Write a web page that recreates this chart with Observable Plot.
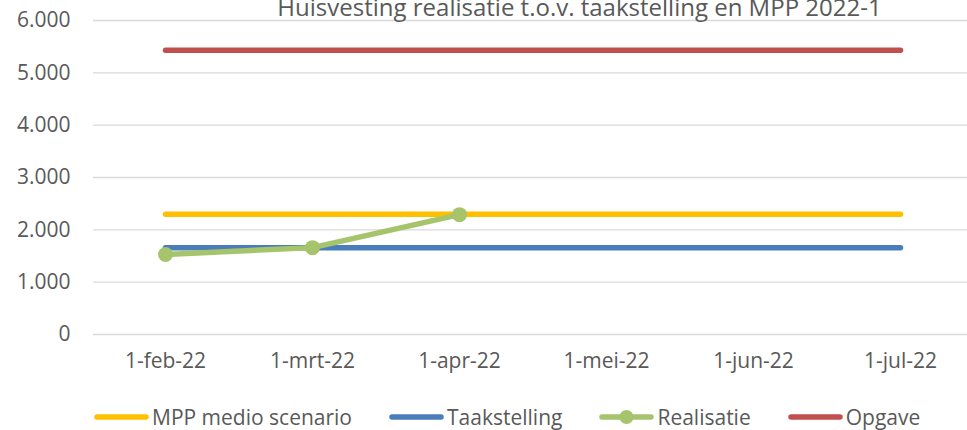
<!DOCTYPE html>
<html>
<head>
<meta charset="utf-8">
<script src="https://cdn.jsdelivr.net/npm/d3@7"></script>
<script src="https://cdn.jsdelivr.net/npm/@observablehq/plot@0.6"></script>
<style>
  body { margin: 0; background: #fff; }
  #wrap { position: relative; width: 967px; height: 430px; overflow: hidden; font-family: "Open Sans", sans-serif; }
  #legend { position: absolute; left: 94px; top: 403px; display: flex; align-items: center; gap: 37px; font-size: 21px; color: #595959; white-space: nowrap; }
  .item { display: flex; align-items: center; gap: 3px; }
</style>
</head>
<body>
<div id="wrap"><div id="chart"></div><div id="legend"></div></div>
<script>
const title = "Huisvesting realisatie t.o.v. taakstelling en MPP 2022-1";
const dates = ["1-feb-22", "1-mrt-22", "1-apr-22", "1-mei-22", "1-jun-22", "1-jul-22"];
const seriesNames = ["MPP medio scenario", "Taakstelling", "Realisatie", "Opgave"];
const seriesColors = ["#FFC000", "#4A7EBB", "#A6C46C", "#C0504D"];
const mppMedio = [2300, 2300, 2300, 2300, 2300, 2300];
const taakstelling = [1660, 1660, 1660, 1660, 1660, 1660];
const realisatie = [1530, 1660, 2290];
const opgave = [5430, 5430, 5430, 5430, 5430, 5430];
const yTicks = [0, 1000, 2000, 3000, 4000, 5000, 6000];

const toRows = (vals, name) => vals.map((v, i) => ({date: dates[i], value: v, series: name}));
const rows = [
  toRows(mppMedio, seriesNames[0]),
  toRows(taakstelling, seriesNames[1]),
  toRows(realisatie, seriesNames[2]),
  toRows(opgave, seriesNames[3])
];
const fmt = d3.formatLocale({decimal: ",", thousands: ".", grouping: [3], currency: ["€", ""]}).format(",");

const chart = Plot.plot({
  width: 967,
  height: 380,
  marginLeft: 93,
  marginRight: 0,
  marginTop: 20,
  marginBottom: 46,
  style: {fontFamily: "'Open Sans', sans-serif", fontSize: "21px", color: "#595959", overflow: "visible"},
  x: {type: "point", domain: dates, range: [165, 900], padding: 0},
  y: {domain: [0, 6000]},
  marks: [
    Plot.ruleY(yTicks, {stroke: "#d9d9d9", strokeWidth: 1.3}),
    Plot.axisY({ticks: yTicks, tickFormat: fmt, tickSize: 0, tickPadding: 23, label: null, fill: "#595959"}),
    Plot.axisX({tickSize: 0, tickPadding: 19, label: null, fill: "#595959"}),
    ...rows.map((r, i) => Plot.line(r, {x: "date", y: "value", stroke: seriesColors[i], strokeWidth: 5.5, strokeLinecap: "round", strokeLinejoin: "round"})),
    Plot.dot(rows[2], {x: "date", y: "value", r: 7.5, fill: seriesColors[2], stroke: "none"}),
    Plot.text([title], {frameAnchor: "top", dx: 49, dy: -5, lineAnchor: "bottom", fontSize: 24, fill: "#595959", style: "letter-spacing:-0.9px"})
  ]
});
document.getElementById("chart").appendChild(chart);

const legend = document.getElementById("legend");
seriesNames.forEach((name, i) => {
  const item = document.createElement("div");
  item.className = "item";
  const marker = i === 2 ? `<circle cx="27.5" cy="7" r="7" fill="${seriesColors[i]}"/>` : "";
  item.innerHTML = `<svg width="55" height="14"><line x1="3" y1="7" x2="52" y2="7" stroke="${seriesColors[i]}" stroke-width="5.5" stroke-linecap="round"/>${marker}</svg><span>${name}</span>`;
  legend.appendChild(item);
});
</script>
</body>
</html>
